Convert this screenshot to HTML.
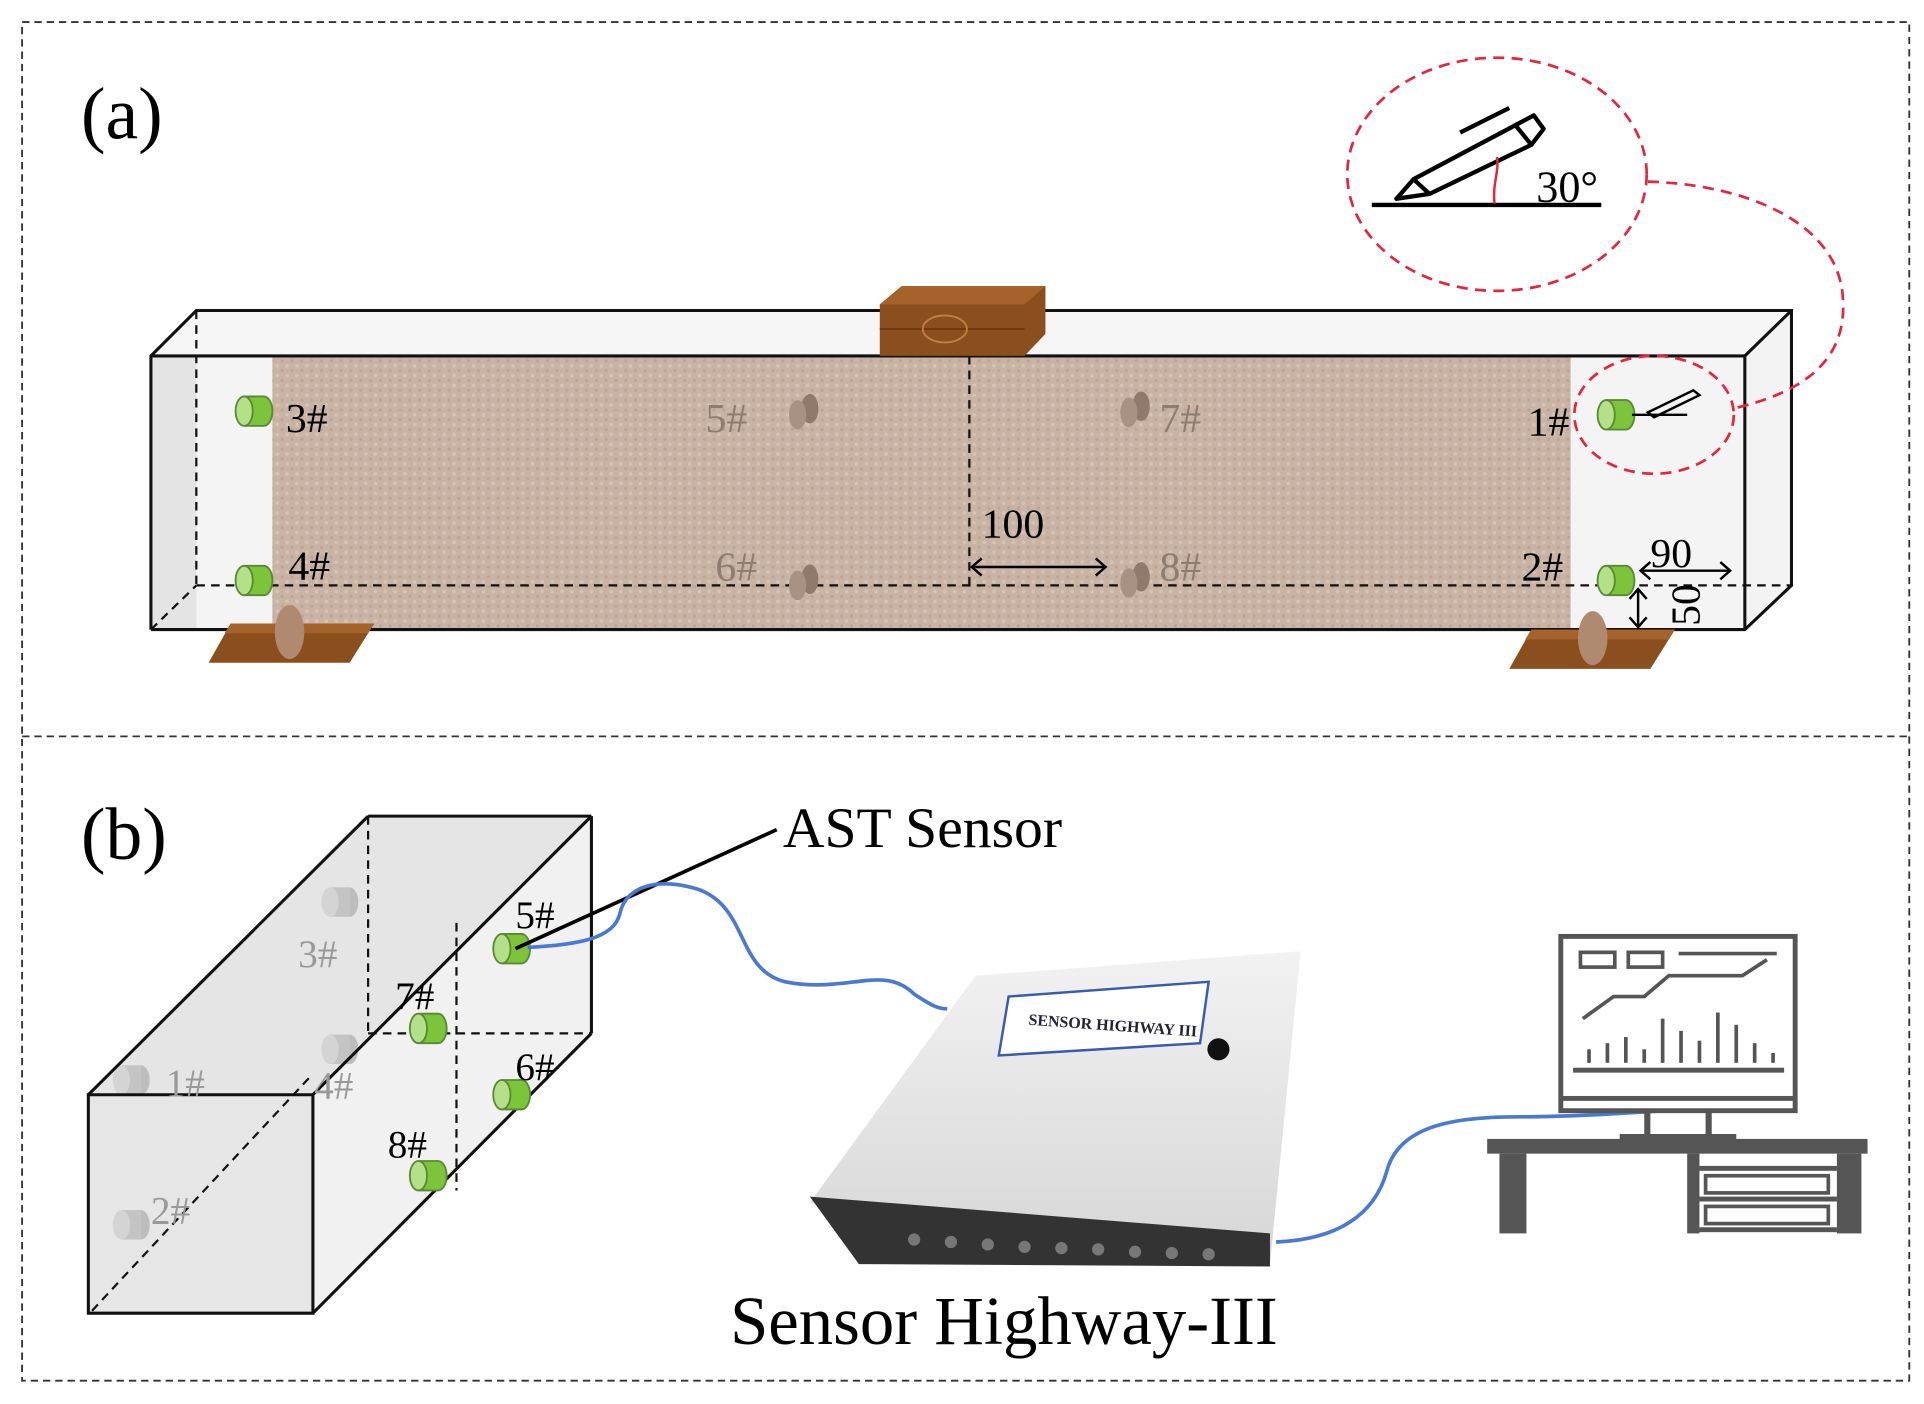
<!DOCTYPE html>
<html><head><meta charset="utf-8"><style>
html,body{margin:0;padding:0;background:#fff}
svg{display:block}
text{font-family:"Liberation Serif",serif}
</style></head><body>
<svg width="1924" height="1404" viewBox="0 0 1568 1144" preserveAspectRatio="none" xmlns="http://www.w3.org/2000/svg">
<defs>
<pattern id="tex" width="8" height="8" patternUnits="userSpaceOnUse">
<rect width="8" height="8" fill="#c9b3a4"/>
<circle cx="2" cy="2" r="1.5" fill="#d6c3b6"/><circle cx="6" cy="6" r="1.3" fill="#bca594"/>
</pattern>
<linearGradient id="dev" x1="0" y1="0" x2="0" y2="1"><stop offset="0" stop-color="#f2f2f2"/><stop offset="1" stop-color="#d6d6d6"/></linearGradient>
<g id="gs"><ellipse cx="10" cy="0" rx="7" ry="12" fill="#7cc43a" stroke="#5a8a30" stroke-width="1.5"/><rect x="-6" y="-12" width="16" height="24" fill="#7cc43a"/><line x1="-6" y1="-12" x2="10" y2="-12" stroke="#5a8a30" stroke-width="1.5"/><line x1="-6" y1="12" x2="10" y2="12" stroke="#5a8a30" stroke-width="1.5"/><ellipse cx="-6" cy="0" rx="7" ry="12" fill="#b4e08a" stroke="#5a8a30" stroke-width="1.5"/></g>
<g id="ys"><ellipse cx="10" cy="0" rx="7" ry="12" fill="#bdbdbd"/><rect x="-6" y="-12" width="16" height="24" fill="#c4c4c4"/><ellipse cx="-6" cy="0" rx="7" ry="12" fill="#d4d4d4"/></g>
<g id="bs"><ellipse cx="8" cy="-3" rx="7" ry="12" fill="#8f7a6c"/><ellipse cx="-2" cy="2" rx="7" ry="12" fill="#a89284"/></g>
</defs>
<rect x="18" y="18" width="1538" height="1107" fill="none" stroke="#333" stroke-width="1.5" stroke-dasharray="6,4"/>
<line x1="18" y1="600" x2="1556" y2="600" stroke="#333" stroke-width="1.5" stroke-dasharray="6,4"/>
<text x="66" y="113" font-size="60">(a)</text>
<polygon points="123,290 160,253 1460,253 1422,290" fill="#f6f6f6"/>
<polygon points="1422,290 1460,253 1460,477 1422,513" fill="#f3f3f3"/>
<rect x="123" y="290" width="1299" height="223" fill="#f4f4f4"/>
<rect x="123" y="290" width="37" height="223" fill="#e4e4e4"/>
<rect x="222" y="290" width="1058" height="223" fill="url(#tex)"/>
<g stroke="#111" stroke-width="1.8" stroke-dasharray="7,5" fill="none">
<line x1="160" y1="253" x2="160" y2="477"/><line x1="160" y1="477" x2="1460" y2="477"/><line x1="123" y1="513" x2="160" y2="477"/><line x1="790" y1="290" x2="790" y2="477"/>
</g>
<g stroke="#111" stroke-width="2.5" fill="none">
<polyline points="123,513 123,290 160,253 1460,253 1460,477 1422,513 123,513"/>
<polyline points="123,290 1422,290 1460,253"/><line x1="1422" y1="290" x2="1422" y2="513"/>
</g>
<polygon points="717,248 735,233 852,233 852,272 835,290 717,290" fill="#8b4f1e"/>
<polygon points="717,248 735,233 852,233 835,248" fill="#a5622a"/>
<line x1="717" y1="268" x2="835" y2="268" stroke="#6a3a12" stroke-width="1.5"/>
<ellipse cx="770" cy="268" rx="18" ry="11" fill="none" stroke="#c08040" stroke-width="1.5"/>
<polygon points="188,508 305,508 285,540 170,540" fill="#8b4f1e"/><polygon points="188,508 305,508 300,516 183,516" fill="#a5622a"/>
<ellipse cx="236" cy="515" rx="12" ry="22" fill="#b08a70"/>
<polygon points="1248,513 1365,513 1345,545 1230,545" fill="#8b4f1e"/><polygon points="1248,513 1365,513 1360,521 1243,521" fill="#a5622a"/>
<ellipse cx="1298" cy="520" rx="12" ry="22" fill="#b08a70"/>
<use href="#gs" x="205" y="335"/><use href="#gs" x="205" y="473"/><use href="#gs" x="1315" y="338"/><use href="#gs" x="1315" y="473"/>
<use href="#bs" x="652" y="336"/><use href="#bs" x="652" y="475"/><use href="#bs" x="922" y="334"/><use href="#bs" x="922" y="473"/>
<g font-size="34"><text x="233" y="352">3#</text><text x="235" y="472">4#</text><text x="1245" y="355">1#</text><text x="1240" y="473">2#</text>
<g fill="#8e7c70"><text x="575" y="352">5#</text><text x="583" y="473">6#</text><text x="945" y="352">7#</text><text x="945" y="473">8#</text></g>
<text x="800" y="438">100</text><text x="1345" y="462">90</text>
<text transform="translate(1385,510) rotate(-90)">50</text></g>
<g stroke="#000" stroke-width="2" fill="none">
<line x1="792" y1="462" x2="901" y2="462"/><polyline points="800,455 792,462 800,469"/><polyline points="893,455 901,462 893,469"/>
<line x1="1337" y1="465" x2="1410" y2="465"/><polyline points="1345,458 1337,465 1345,472"/><polyline points="1402,458 1410,465 1402,472"/>
<line x1="1335" y1="480" x2="1335" y2="511"/><polyline points="1328,488 1335,480 1342,488"/><polyline points="1328,503 1335,511 1342,503"/>
<line x1="1330" y1="338" x2="1375" y2="338"/><path d="M1343,336 L1380,318 L1385,322 L1348,340 Z"/>
</g>
<g stroke="#e8243c" stroke-width="2.2" stroke-dasharray="9,6" fill="none">
<ellipse cx="1220" cy="142" rx="122" ry="95"/><ellipse cx="1348" cy="338" rx="65" ry="48"/>
<path d="M1343,148 C1420,150 1500,180 1502,245 C1505,300 1460,322 1412,333"/>
</g>
<g stroke="#000" stroke-width="3.5" fill="none" stroke-linejoin="round">
<line x1="1118" y1="167" x2="1305" y2="167"/>
<path d="M1138,162 L1152,146 L1235,102 L1248,118 L1165,158 Z"/><line x1="1152" y1="146" x2="1165" y2="158"/>
<path d="M1235,102 L1250,94 L1258,105 L1248,118"/><line x1="1190" y1="108" x2="1230" y2="88"/>
</g>
<path d="M1218,166 C1216,150 1222,140 1220,128" stroke="#e8243c" stroke-width="2" fill="none"/>
<text x="1252" y="164" font-size="36">30°</text>
<text x="66" y="700" font-size="60">(b)</text>
<polygon points="72,892 300,665 482,665 255,892" fill="#dedede" fill-opacity="0.8"/>
<polygon points="255,892 482,665 482,842 255,1070" fill="#f1f1f1"/>
<rect x="72" y="892" width="183" height="178" fill="#e6e6e6"/>
<use href="#ys" x="275" y="735"/><use href="#ys" x="275" y="855"/><use href="#ys" x="105" y="880"/><use href="#ys" x="105" y="998"/>
<g stroke="#111" stroke-width="1.8" stroke-dasharray="7,5" fill="none">
<line x1="300" y1="665" x2="300" y2="842"/><line x1="300" y1="842" x2="482" y2="842"/><line x1="75" y1="1068" x2="255" y2="875"/><line x1="372" y1="752" x2="372" y2="970"/>
</g>
<g stroke="#111" stroke-width="2.5" fill="none">
<polygon points="72,892 255,892 255,1070 72,1070"/><line x1="72" y1="892" x2="300" y2="665"/><line x1="300" y1="665" x2="482" y2="665"/>
<line x1="255" y1="892" x2="482" y2="665"/><line x1="482" y1="665" x2="482" y2="842"/><line x1="482" y1="842" x2="255" y2="1070"/>
</g>
<use href="#gs" x="415" y="773"/><use href="#gs" x="347" y="838"/><use href="#gs" x="415" y="892"/><use href="#gs" x="347" y="958"/>
<g font-size="32"><text x="420" y="756">5#</text><text x="322" y="822">7#</text><text x="420" y="880">6#</text><text x="316" y="943">8#</text>
<g fill="#999"><text x="243" y="788">3#</text><text x="135" y="893">1#</text><text x="256" y="895">4#</text><text x="123" y="997">2#</text></g></g>
<line x1="633" y1="676" x2="420" y2="773" stroke="#000" stroke-width="3"/>
<text x="638" y="690" font-size="47">AST Sensor</text>
<path d="M430,772 C470,770 500,765 505,745 C510,720 540,715 570,725 C610,740 600,790 640,800 C690,810 720,785 745,810 C760,820 765,822 772,822" stroke="#4a7ad0" stroke-width="3" fill="none"/>
<polygon points="795,795 1060,775 1035,1030 660,980" fill="url(#dev)"/>
<polygon points="660,975 1035,1005 1035,1032 700,1030" fill="#333"/>
<g fill="#777"><circle cx="745" cy="1010" r="5"/><circle cx="775" cy="1012" r="5"/><circle cx="805" cy="1014" r="5"/><circle cx="835" cy="1016" r="5"/><circle cx="865" cy="1017" r="5"/><circle cx="895" cy="1018" r="5"/><circle cx="925" cy="1020" r="5"/><circle cx="955" cy="1021" r="5"/><circle cx="985" cy="1022" r="5"/></g>
<polygon points="822,812 985,800 978,850 814,860" fill="#fff" stroke="#3a5ab0" stroke-width="2"/>
<text x="838" y="835" font-size="13" font-family="Liberation Sans" font-weight="bold" fill="#223" transform="rotate(4 838 835)">SENSOR HIGHWAY III</text>
<circle cx="993" cy="855" r="9" fill="#111"/>
<path d="M1040,1012 C1090,1010 1120,990 1130,955 C1140,915 1190,910 1240,910 C1300,910 1340,905 1365,905" stroke="#4a7ad0" stroke-width="3" fill="none"/>
<g fill="#555">
<rect x="1272" y="763" width="191" height="142" fill="none" stroke="#555" stroke-width="4"/>
<rect x="1272" y="893" width="191" height="4"/>
<rect x="1340" y="905" width="5" height="22"/><rect x="1390" y="905" width="5" height="22"/><rect x="1320" y="924" width="95" height="6"/>
<rect x="1212" y="928" width="310" height="12"/><rect x="1222" y="940" width="22" height="65"/><rect x="1497" y="940" width="20" height="65"/>
<rect x="1375" y="940" width="10" height="65"/><rect x="1385" y="950" width="112" height="4"/><rect x="1385" y="975" width="112" height="4"/><rect x="1385" y="1000" width="112" height="4"/>
<rect x="1390" y="958" width="100" height="14" fill="none" stroke="#555" stroke-width="3"/><rect x="1390" y="983" width="100" height="14" fill="none" stroke="#555" stroke-width="3"/>
<rect x="1282" y="870" width="172" height="4"/>
</g>
<g stroke="#555" stroke-width="3" fill="none">
<rect x="1288" y="776" width="28" height="12"/><rect x="1327" y="776" width="28" height="12"/><line x1="1368" y1="777" x2="1448" y2="777"/>
<polyline points="1290,830 1315,812 1340,812 1360,795 1420,795 1440,782"/>
<line x1="1295" y1="866" x2="1295" y2="855"/><line x1="1310" y1="866" x2="1310" y2="850"/><line x1="1325" y1="866" x2="1325" y2="845"/><line x1="1340" y1="866" x2="1340" y2="855"/><line x1="1355" y1="866" x2="1355" y2="830"/><line x1="1370" y1="866" x2="1370" y2="840"/><line x1="1385" y1="866" x2="1385" y2="848"/><line x1="1400" y1="866" x2="1400" y2="825"/><line x1="1415" y1="866" x2="1415" y2="835"/><line x1="1430" y1="866" x2="1430" y2="850"/><line x1="1445" y1="866" x2="1445" y2="858"/>
</g>
<text x="595" y="1095" font-size="56">Sensor Highway-III</text>
</svg>
</body></html>
